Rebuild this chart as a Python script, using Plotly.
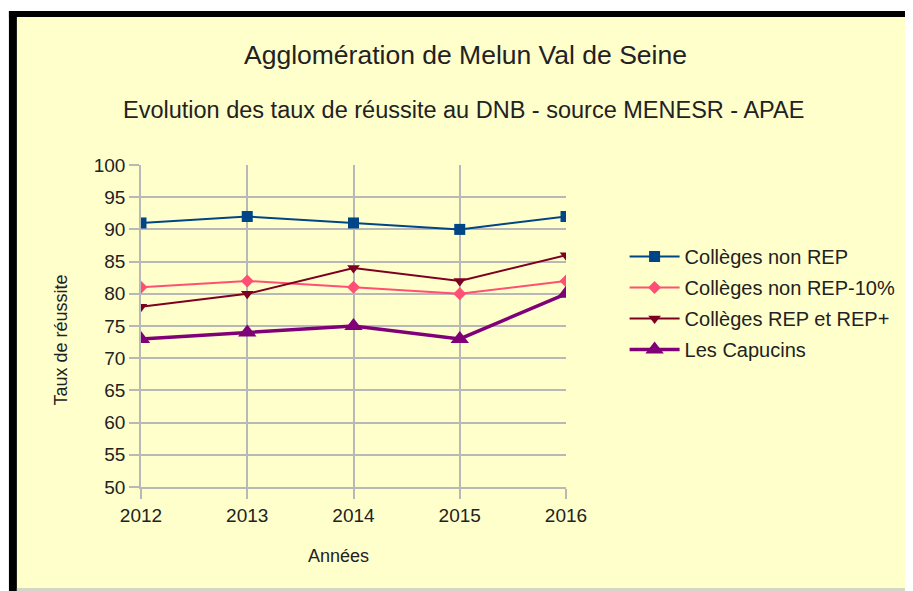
import plotly.graph_objects as go

years = [2012, 2013, 2014, 2015, 2016]
non_rep = [91, 92, 91, 90, 92]
non_rep_10 = [81, 82, 81, 80, 82]
rep = [78, 80, 84, 82, 86]
capucins = [73, 74, 75, 73, 80]

names = ["Collèges non REP", "Collèges non REP-10%", "Collèges REP et REP+", "Les Capucins"]
series = [non_rep, non_rep_10, rep, capucins]
colors = ["#004586", "#ff4f73", "#7e0021", "#800078"]
symbols = ["square", "diamond", "triangle-down", "triangle-up"]
msizes = [11, 10, 11, 16]
lwidths = [2, 2, 2, 3.5]

# figure is placed by the page at (8, 8); coordinates below are figure pixels
W, H = 905, 583
L, R, T, B = 133, 344, 157, 104
pw, ph = W - L - R, H - T - B


def px(x):
    return (x - L) / pw


def py(y):
    return (H - B - y) / ph


fig = go.Figure()
for i, (n, s) in enumerate(zip(names, series)):
    fig.add_trace(go.Scatter(
        x=years, y=s, name=n, mode="lines+markers",
        line=dict(color=colors[i], width=lwidths[i]),
        marker=dict(symbol=symbols[i], size=msizes[i], color=colors[i]),
        legendgroup=f"g{i}",
    ))

bg = "#ffffcc"
shapes = [
    dict(type="rect", xref="paper", yref="paper", x0=px(0), x1=px(W + 5), y0=py(H + 5), y1=py(3),
         fillcolor=bg, line=dict(width=0), layer="below"),
    dict(type="rect", xref="paper", yref="paper", x0=px(0), x1=px(W + 5), y0=py(9), y1=py(3),
         fillcolor="#000000", line=dict(width=0), layer="below"),
    dict(type="rect", xref="paper", yref="paper", x0=px(0), x1=px(8), y0=py(H + 5), y1=py(3),
         fillcolor="#000000", line=dict(width=0), layer="below"),
    dict(type="rect", xref="paper", yref="paper", x0=px(8), x1=px(W + 5), y0=py(H + 5), y1=py(580),
         fillcolor="#d6d6c6", line=dict(width=0), layer="below"),
]

font_family = "Liberation Sans, Arial, sans-serif"
txt = "#222222"
annotations = [
    dict(text="Agglomération de Melun Val de Seine", xref="paper", yref="paper",
         x=px(460), y=py(47), showarrow=False, font=dict(size=26.5, color=txt, family=font_family),
         xanchor="center", yanchor="middle"),
    dict(text="Evolution des taux de réussite au DNB - source MENESR - APAE", xref="paper", yref="paper",
         x=px(458), y=py(102), showarrow=False, font=dict(size=23.5, color=txt, family=font_family),
         xanchor="center", yanchor="middle"),
    dict(text="Années", xref="paper", yref="paper",
         x=px(332), y=py(548), showarrow=False, font=dict(size=18, color=txt, family=font_family),
         xanchor="center", yanchor="middle"),
    dict(text="Taux de réussite", xref="paper", yref="paper", textangle=-90,
         x=px(52), y=py(332), showarrow=False, font=dict(size=18, color=txt, family=font_family),
         xanchor="center", yanchor="middle"),
]

fig.update_layout(
    width=W, height=H,
    margin=dict(l=L, r=R, t=T, b=B, pad=0),
    paper_bgcolor="#ffffff",
    plot_bgcolor=bg,
    shapes=shapes,
    annotations=annotations,
    font=dict(family=font_family, size=19, color=txt),
    showlegend=True,
    legend=dict(x=px(620), y=py(229), xanchor="left", yanchor="top",
                bgcolor="rgba(0,0,0,0)", font=dict(size=20, color=txt),
                tracegroupgap=2, itemwidth=50),
    xaxis=dict(range=[2012, 2016], tickmode="array", tickvals=years, ticktext=[str(y) for y in years],
               showgrid=True, gridcolor="#b8b8b8", gridwidth=1.5,
               showline=True, linecolor="#b8b8b8", linewidth=1.5,
               ticks="outside", ticklen=10, tickcolor="#b8b8b8", tickwidth=1.5,
               zeroline=False, tickfont=dict(size=19)),
    yaxis=dict(range=[50, 100], dtick=5, tick0=50,
               showgrid=True, gridcolor="#b8b8b8", gridwidth=1.5,
               showline=True, linecolor="#b8b8b8", linewidth=1.5,
               ticks="outside", ticklen=10, tickcolor="#b8b8b8", tickwidth=1.5,
               zeroline=False, tickfont=dict(size=19)),
)

fig.write_html("out.html")
